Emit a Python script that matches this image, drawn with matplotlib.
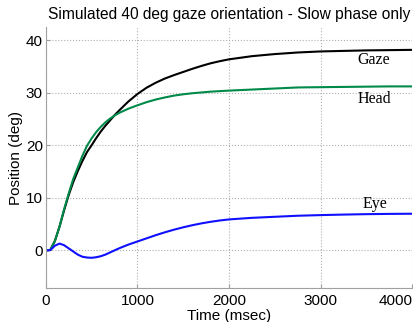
import matplotlib
matplotlib.use('Agg')
import matplotlib.pyplot as plt

plt.rcParams['font.family'] = ['Liberation Sans', 'DejaVu Sans']

# time samples (msec)
time_ms = [0, 50, 100, 150, 200, 250, 300, 350, 400, 450, 500, 550, 600, 650, 700, 750, 800, 900,
           1000, 1100, 1200, 1300, 1400, 1500, 1600, 1700, 1800, 1900, 2000,
           2250, 2500, 2750, 3000, 3250, 3500, 3750, 4000]

gaze = [0, 0.1, 1.8, 4.5, 7.6, 10.5, 13.0, 15.1, 17.0, 18.7, 20.0, 21.35, 22.6, 23.7, 24.7, 25.7, 26.6, 28.3,
        29.75, 30.95, 31.9, 32.7, 33.35, 33.95, 34.55, 35.1, 35.6, 36.0, 36.35,
        36.95, 37.35, 37.65, 37.85, 37.95, 38.05, 38.1, 38.15]

head = [0, 0.1, 1.8, 4.5, 7.8, 10.8, 13.6, 15.8, 18.0, 19.9, 21.3, 22.5, 23.5, 24.35, 25.05, 25.65, 26.15, 26.95,
        27.6, 28.2, 28.7, 29.1, 29.45, 29.7, 29.9, 30.05, 30.2, 30.3, 30.4,
        30.6, 30.8, 31.0, 31.05, 31.1, 31.15, 31.2, 31.2]

eye = [0, 0.05, 0.9, 1.3, 1.0, 0.4, -0.2, -0.8, -1.2, -1.35, -1.4, -1.3, -1.1, -0.8, -0.4, 0.0, 0.4, 1.1,
       1.7, 2.3, 2.9, 3.45, 3.95, 4.4, 4.8, 5.15, 5.45, 5.7, 5.9,
       6.2, 6.4, 6.6, 6.72, 6.82, 6.9, 6.95, 6.98]

labels = ['Gaze', 'Head', 'Eye']
label_pos = [(3580, 36.2), (3585, 28.8), (3590, 8.8)]

fig = plt.figure(figsize=(4.13, 3.22), dpi=100)
ax = fig.add_axes([0.1107, 0.1047, 0.888, 0.8115])

ax.plot(time_ms, gaze, color='black', lw=1.5)
ax.plot(time_ms, head, color='#008a4a', lw=1.5)
ax.plot(time_ms, eye, color='#1010ff', lw=1.5)

for txt, (tx, ty) in zip(labels, label_pos):
    ax.text(tx, ty, txt, family='Liberation Serif', fontsize=11.5,
            ha='center', va='center')

ax.set_xlim(0, 4000)
ax.set_ylim(-7.2, 42.5)
ax.set_xticks([0, 1000, 2000, 3000, 4000])
ax.set_yticks([0, 10, 20, 30, 40])
ax.grid(True, color='#b0b0b0', linestyle=':', linewidth=0.8)

for s in ['top', 'right']:
    ax.spines[s].set_visible(False)
for s in ['left', 'bottom']:
    ax.spines[s].set_color('#a0a0a0')
ax.tick_params(direction='in', length=3, color='#a0a0a0', labelsize=11)
ax.tick_params(axis='x', pad=4)
ax.tick_params(axis='y', pad=2)

ax.set_title('Simulated 40 deg gaze orientation - Slow phase only', fontsize=11.2, pad=6)
ax.set_xlabel('Time (msec)', fontsize=11, labelpad=1)
ax.set_ylabel('Position (deg)', fontsize=11, labelpad=2)

fig.canvas.draw()
ax.get_xticklabels()[-1].set_ha('right')

plt.savefig('out.png', dpi=100)
